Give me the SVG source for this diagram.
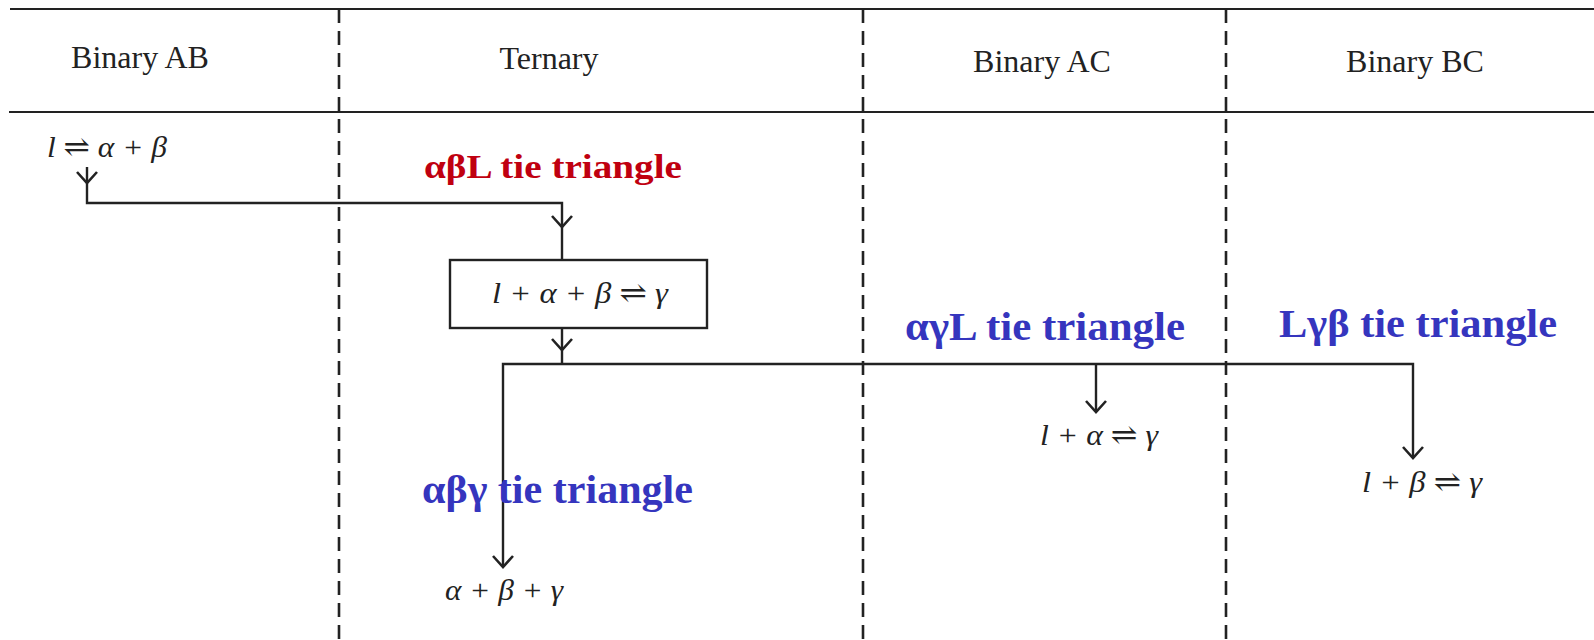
<svg xmlns="http://www.w3.org/2000/svg" xmlns:xlink="http://www.w3.org/1999/xlink" width="1594" height="640" viewBox="0 0 1594 640">
<style>
.rule{stroke:#222;stroke-width:2.2;fill:none}
.dash{stroke:#222;stroke-width:2.6;stroke-dasharray:14 8;fill:none}
.ln{stroke:#222;stroke-width:2.4;fill:none}
.hdr{font-family:"Liberation Serif","DejaVu Serif",serif;font-size:32px;fill:#222;text-anchor:middle}
.math{font-family:"Liberation Serif","DejaVu Serif",serif;font-style:italic;font-size:30px;fill:#222}
.blue{font-family:"Liberation Serif","DejaVu Serif",serif;font-weight:bold;font-size:39px;fill:#3535BE}
.red{font-family:"Liberation Serif","DejaVu Serif",serif;font-weight:bold;font-size:33px;fill:#C00010}
</style>
<defs>
<path id="chev" d="M-10,-11 L0,0 L10,-11" fill="none" stroke="#222" stroke-width="2.6"/>
</defs>
<rect width="1594" height="640" fill="#fff"/>
<g id="table">
<line class="rule" x1="10" y1="9" x2="1594" y2="9"/>
<line class="rule" x1="9" y1="112" x2="1594" y2="112"/>
<line class="dash" x1="339" y1="9" x2="339" y2="640"/>
<line class="dash" x1="863" y1="9" x2="863" y2="640"/>
<line class="dash" x1="1226" y1="9" x2="1226" y2="640"/>
<text class="hdr" x="140" y="68">Binary AB</text>
<text class="hdr" x="549" y="69">Ternary</text>
<text class="hdr" x="1042" y="72">Binary AC</text>
<text class="hdr" x="1415" y="72">Binary BC</text>
</g>
<g id="connectors">
<path class="ln" d="M87,167 V203 H562 V259"/>
<path class="ln" d="M562,328 V364"/>
<path class="ln" d="M503,567 V364 H1413 V458"/>
<path class="ln" d="M1096,364 V412"/>
<use xlink:href="#chev" x="87" y="183"/>
<use xlink:href="#chev" x="562" y="227"/>
<use xlink:href="#chev" x="562" y="350"/>
<use xlink:href="#chev" x="503" y="567"/>
<use xlink:href="#chev" x="1096" y="412"/>
<use xlink:href="#chev" x="1413" y="458"/>
</g>
<g id="node-ab">
<text class="math" x="47" y="157" textLength="120" lengthAdjust="spacingAndGlyphs">l ⇌ α + β</text>
</g>
<g id="node-red-label">
<text class="red" x="424" y="178" textLength="258" lengthAdjust="spacingAndGlyphs">αβL tie triangle</text>
</g>
<g id="node-ternary">
<rect x="450" y="260" width="257" height="68" fill="#fff" stroke="#222" stroke-width="2.4"/>
<text class="math" x="492" y="303" textLength="176" lengthAdjust="spacingAndGlyphs">l + α + β ⇌ γ</text>
</g>
<g id="node-abg">
<text class="blue" x="422" y="503" textLength="271" lengthAdjust="spacingAndGlyphs">αβγ tie triangle</text>
<text class="math" x="445" y="600" textLength="118" lengthAdjust="spacingAndGlyphs">α + β + γ</text>
</g>
<g id="node-ac">
<text class="blue" x="905" y="340" textLength="280" lengthAdjust="spacingAndGlyphs">αγL tie triangle</text>
<text class="math" x="1040" y="445" textLength="118" lengthAdjust="spacingAndGlyphs">l + α ⇌ γ</text>
</g>
<g id="node-bc">
<text class="blue" x="1279" y="337" textLength="278" lengthAdjust="spacingAndGlyphs">Lγβ tie triangle</text>
<text class="math" x="1362" y="492" textLength="120" lengthAdjust="spacingAndGlyphs">l + β ⇌ γ</text>
</g>
</svg>
